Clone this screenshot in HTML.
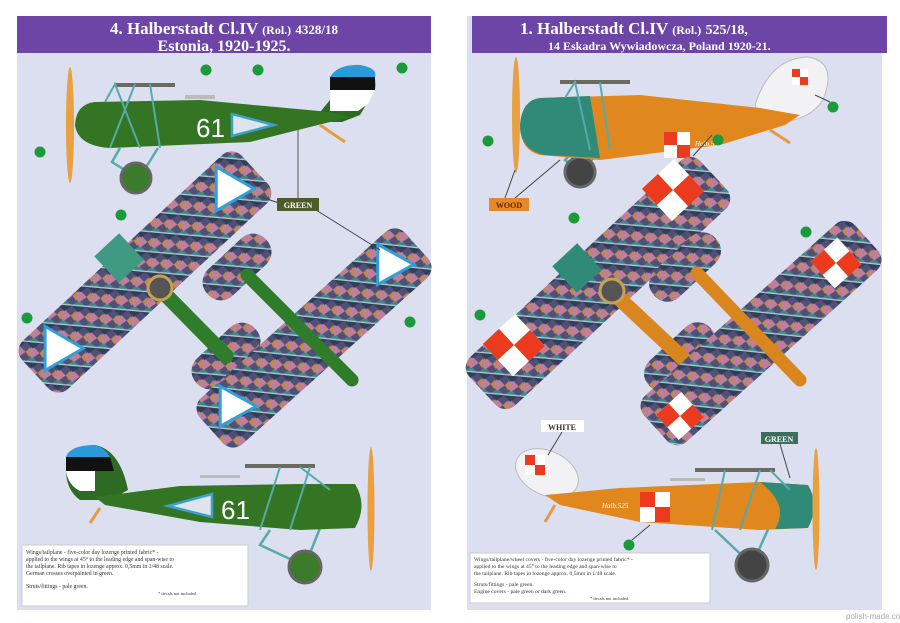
<!DOCTYPE html>
<html><head><meta charset="utf-8"><style>
html,body{margin:0;padding:0;background:#fff;width:900px;height:623px;overflow:hidden}
svg{display:block}
.t{font-family:"Liberation Serif",serif}
</style></head><body>
<svg width="900" height="623" viewBox="0 0 900 623" xmlns="http://www.w3.org/2000/svg">
<defs>
<pattern id="loz" width="20" height="14" patternUnits="userSpaceOnUse" patternTransform="rotate(-42)">
<rect width="20" height="14" fill="#4f5078"/>
<polygon points="0,0 6,7 0,14" fill="#3a8a88"/>
<polygon points="10,0 16,7 10,14 4,7" fill="#c07f98"/>
<polygon points="20,0 14,7 20,14" fill="#2f3f5a"/>
<polygon points="10,0 15,4 5,4" fill="#c08a4a"/>
<rect x="0" y="0" width="1.3" height="14" fill="#f0e0ee" opacity=".7"/>
</pattern>
<g id="chk"><rect x="-1" y="-1" width="2" height="2" fill="#fff"/><rect x="-1" y="-1" width="1" height="1" fill="#ec3a1e"/><rect x="0" y="0" width="1" height="1" fill="#ec3a1e"/></g>
</defs>
<rect width="900" height="623" fill="#fff"/>
<rect x="17" y="16" width="414" height="594" fill="#dcdff0"/>
<rect x="467" y="16" width="415" height="594" fill="#dcdff0"/>
<rect x="17" y="16" width="414" height="37" fill="#6d45a6"/>
<rect x="472" y="16" width="415" height="37" fill="#6d45a6"/>
<text class="t" x="224" y="34" text-anchor="middle" fill="#fff" font-size="17" font-weight="bold">4. Halberstadt Cl.IV <tspan font-size="12">(Rol.)</tspan> <tspan font-size="13">4328/18</tspan></text>
<text class="t" x="224" y="51" text-anchor="middle" fill="#fff" font-size="16" font-weight="bold">Estonia, 1920-1925.</text>
<text class="t" x="520" y="34" fill="#fff" font-size="17" font-weight="bold">1. Halberstadt Cl.IV <tspan font-size="12">(Rol.)</tspan> <tspan font-size="14">525/18,</tspan></text>
<text class="t" x="548" y="50" fill="#fff" font-size="12" font-weight="bold">14 Eskadra Wywiadowcza, Poland 1920-21.</text>

<!-- LEFT top side view -->
<path d="M120,148 L112,162 L136,177 M158,148 L140,177" stroke="#5aa" stroke-width="2.5" fill="none"/>
<circle cx="136" cy="178" r="15" fill="#3c7a2c" stroke="#666" stroke-width="3"/>
<path d="M330,100 Q330,64 360,65 Q378,68 375,90 L360,115 L342,122 L312,122Z" fill="#2e6b22"/>
<path d="M330,77 Q338,64 360,65 Q378,68 375,77Z" fill="#2a9ad8"/>
<rect x="330" y="77" width="45" height="13" fill="#111"/>
<path d="M330,90 L375,90 L368,104 L358,111 L330,111Z" fill="#fff"/>
<path d="M75,125 Q76,104 95,102 L200,100 L330,112 L348,117 L330,122 L250,142 L110,148 Q78,146 75,125Z" fill="#347524"/>
<path d="M320,125 L345,142" stroke="#e89a40" stroke-width="3"/>
<ellipse cx="70" cy="125" rx="4" ry="58" fill="#e8a040"/>
<rect x="115" y="83" width="60" height="4" fill="#6a6a60"/>
<path d="M105,102 L115,84 L140,148 M150,84 L160,148 M135,84 L110,148" stroke="#5aa" stroke-width="2" fill="none"/>
<rect x="185" y="95" width="30" height="4" fill="#bbb"/>
<text x="196" y="137" font-family="Liberation Sans" font-size="26" fill="#fff">61</text>
<polygon points="232,114 274,125 232,136" fill="#e0e4ea" stroke="#3aa0d0" stroke-width="2.5"/>
<path d="M298,130 L298,200" stroke="#555" stroke-width="1"/>
<circle cx="206" cy="70" r="5.5" fill="#1a9a3a"/><circle cx="258" cy="70" r="5.5" fill="#1a9a3a"/><circle cx="402" cy="68" r="5.5" fill="#1a9a3a"/><circle cx="40" cy="152" r="5.5" fill="#1a9a3a"/>
<!-- LEFT top views -->
<g transform="translate(145,272) rotate(-43)"><rect x="-150" y="-33" width="300" height="66" rx="14" fill="url(#loz)"/>
<polygon points="-130,-22 -92,0 -130,22" fill="#fff" stroke="#30a0d8" stroke-width="3" transform="rotate(43 -112 0)"/><polygon points="104,-22 142,0 104,22" fill="#fff" stroke="#30a0d8" stroke-width="3" transform="rotate(43 122 0)"/></g>
<g transform="translate(237,267) rotate(-43)"><rect x="-40" y="-18" width="80" height="36" rx="17" fill="url(#loz)"/></g>
<g transform="translate(226,356) rotate(-43)"><rect x="-40" y="-18" width="80" height="36" rx="17" fill="url(#loz)"/></g>
<path d="M159,288 L226,356" stroke="#2f7d2a" stroke-width="15" stroke-linecap="round"/>
<g transform="translate(314,338) rotate(-42)"><rect x="-138" y="-31" width="276" height="62" rx="14" fill="url(#loz)"/>
<polygon points="-120,-20 -84,0 -120,20" fill="#fff" stroke="#30a0d8" stroke-width="3" transform="rotate(42 -102 0)"/><polygon points="92,-20 128,0 92,20" fill="#fff" stroke="#30a0d8" stroke-width="3" transform="rotate(42 110 0)"/></g>
<path d="M247,275 L352,380" stroke="#2f7d2a" stroke-width="13" stroke-linecap="round"/>
<rect x="102" y="240" width="34" height="36" fill="#3f9a82" transform="rotate(-43 119 258)"/>
<circle cx="160" cy="288" r="12" fill="#555" stroke="#c8a050" stroke-width="3"/>
<path d="M258,196 L282,204 M316,210 L380,250" stroke="#444" stroke-width="1"/>
<rect x="277" y="198" width="42" height="13" fill="#4e5a2a"/><text x="298" y="208" text-anchor="middle" class="t" font-size="8" font-weight="bold" fill="#fff">GREEN</text>
<circle cx="121" cy="215" r="5.5" fill="#1a9a3a"/><circle cx="27" cy="318" r="5.5" fill="#1a9a3a"/><circle cx="410" cy="322" r="5.5" fill="#1a9a3a"/>
<!-- LEFT bottom side view -->
<path d="M270,530 L260,545 L305,566 M320,528 L305,566" stroke="#5aa" stroke-width="2.5" fill="none"/>
<circle cx="305" cy="567" r="16" fill="#3c7a2c" stroke="#666" stroke-width="3"/>
<path d="M66,470 Q66,445 95,445 Q120,450 128,490 L110,500 L80,500 Q66,490 66,470Z" fill="#2e6b22"/>
<path d="M66,457 Q70,445 95,445 Q105,448 110,457Z" fill="#2a9ad8"/>
<path d="M66,457 L110,457 L114,471 L66,471Z" fill="#111"/>
<path d="M66,471 L95,471 L95,491 L80,491 Q68,485 66,471Z" fill="#fff"/>
<path d="M95,497 L180,486 L300,484 L355,484 Q368,505 355,528 L300,530 L200,522 L105,505Z" fill="#347524"/>
<path d="M100,508 L90,523" stroke="#e89a40" stroke-width="3"/>
<rect x="245" y="464" width="70" height="4" fill="#6a6a60"/>
<rect x="200" y="475" width="40" height="3" fill="#bbb"/>
<path d="M280,467 L260,530 M310,467 L290,530 M300,467 L330,490" stroke="#5aa" stroke-width="2" fill="none"/>
<ellipse cx="371" cy="509" rx="3.5" ry="62" fill="#e8a040"/>
<polygon points="212,494 168,506 212,517" fill="#e0e4ea" stroke="#3aa0d0" stroke-width="2.5"/>
<text x="221" y="519" font-family="Liberation Sans" font-size="26" fill="#fff">61</text>
<rect x="22" y="545" width="226" height="61" fill="#fff" stroke="#ccc"/>
<g font-family="Liberation Serif" font-size="5.8" fill="#333">
<text x="26" y="554">Wings/tailplane - five-color day lozenge printed fabric* -</text>
<text x="26" y="561">applied to the wings at 45° to the leading edge and span-wise to</text>
<text x="26" y="568">the tailplane. Rib tapes in lozenge approx. 0,5mm in 1/48 scale.</text>
<text x="26" y="575">German crosses overpainted in green.</text>
<text x="26" y="588">Struts/fittings - pale green.</text>
<text x="158" y="595" font-size="4.5">* decals not included</text></g>

<!-- RIGHT top side view -->
<path d="M575,150 L565,160 L580,172 M600,150 L582,172" stroke="#5aa" stroke-width="2.5" fill="none"/>
<circle cx="580" cy="172" r="15" fill="#444" stroke="#666" stroke-width="3"/>
<path d="M755,105 Q770,58 808,57 Q838,62 823,100 Q810,120 780,122 L760,120Z" fill="#f2f2f4" stroke="#bbb"/>
<g transform="translate(800,77) scale(8)"><use href="#chk"/></g>
<path d="M520,125 Q522,100 540,98 L640,95 L760,108 L800,115 L785,125 L720,145 L600,160 L540,155 Q520,150 520,125Z" fill="#e0881e"/>
<path d="M520,125 Q522,100 540,98 L590,96 L600,158 L545,155 Q520,150 520,125Z" fill="#2f8a78"/>
<path d="M770,130 L790,143" stroke="#e89a40" stroke-width="3"/>
<ellipse cx="516" cy="115" rx="4" ry="58" fill="#e8a040"/>
<rect x="560" y="80" width="70" height="4" fill="#6a6a60"/>
<path d="M565,98 L575,82 L590,150 M600,82 L610,150" stroke="#5aa" stroke-width="2" fill="none"/>
<g transform="translate(677,145) scale(13)"><use href="#chk"/></g>
<text x="695" y="146" font-family="Liberation Serif" font-size="7" fill="#fff" font-style="italic">Halb.525</text>
<path d="M815,95 L830,102 M693,156 L712,135" stroke="#444" stroke-width="1"/>
<circle cx="833" cy="107" r="5.5" fill="#1a9a3a"/><circle cx="718" cy="140" r="5.5" fill="#1a9a3a"/><circle cx="488" cy="141" r="5.5" fill="#1a9a3a"/>
<path d="M515,170 L505,198 M560,160 L515,198" stroke="#444" stroke-width="1"/>
<rect x="489" y="198" width="40" height="13" fill="#e8862a"/><text x="509" y="208" text-anchor="middle" class="t" font-size="8" font-weight="bold" fill="#5a2a00">WOOD</text>
<!-- RIGHT top views -->
<g transform="translate(598,283) rotate(-43)"><rect x="-158" y="-33" width="316" height="66" rx="14" fill="url(#loz)"/></g>
<g transform="translate(685,267) rotate(-43)"><rect x="-42" y="-18" width="84" height="36" rx="17" fill="url(#loz)"/></g>
<g transform="translate(680,357) rotate(-43)"><rect x="-42" y="-18" width="84" height="36" rx="17" fill="url(#loz)"/></g>
<path d="M607,287 L690,365" stroke="#d9861e" stroke-width="15" stroke-linecap="round"/>
<g transform="translate(761,333) rotate(-42)"><rect x="-142" y="-31" width="284" height="62" rx="14" fill="url(#loz)"/></g>
<path d="M697,273 L800,380" stroke="#d9861e" stroke-width="13" stroke-linecap="round"/>
<g transform="translate(673,190) rotate(-43) scale(22)"><use href="#chk"/></g>
<g transform="translate(514,345) rotate(-43) scale(22)"><use href="#chk"/></g>
<g transform="translate(836,263) rotate(-42) scale(18)"><use href="#chk"/></g>
<g transform="translate(680,416) rotate(-42) scale(17)"><use href="#chk"/></g>
<rect x="560" y="250" width="34" height="36" fill="#2f8a78" transform="rotate(-43 577 268)"/>
<circle cx="612" cy="291" r="12" fill="#555" stroke="#c8a050" stroke-width="3"/>
<circle cx="574" cy="218" r="5.5" fill="#1a9a3a"/><circle cx="480" cy="315" r="5.5" fill="#1a9a3a"/><circle cx="806" cy="232" r="5.5" fill="#1a9a3a"/>
<!-- RIGHT bottom side view -->
<path d="M715,530 L752,565 M770,525 L752,565" stroke="#5aa" stroke-width="2.5" fill="none"/>
<circle cx="752" cy="565" r="16" fill="#444" stroke="#666" stroke-width="3"/>
<ellipse cx="547" cy="473" rx="33" ry="22" fill="#f2f2f4" stroke="#bbb" transform="rotate(25 547 473)"/>
<g transform="translate(535,465) scale(10)"><use href="#chk"/></g>
<path d="M545,495 L620,488 L760,482 L808,485 Q820,505 808,528 L760,530 L640,522 L560,505Z" fill="#e0881e"/>
<path d="M760,482 L808,485 Q820,505 808,528 L775,529 Q790,505 760,482Z" fill="#2f8a78"/>
<path d="M555,505 L545,522" stroke="#e89a40" stroke-width="3"/>
<rect x="695" y="468" width="80" height="4" fill="#6a6a60"/>
<rect x="670" y="478" width="35" height="3" fill="#bbb"/>
<path d="M725,470 L712,530 M760,470 L740,530 M770,470 L790,490" stroke="#5aa" stroke-width="2" fill="none"/>
<ellipse cx="816" cy="509" rx="3.5" ry="61" fill="#e8a040"/>
<g transform="translate(655,507) scale(15)"><use href="#chk"/></g>
<text x="602" y="508" font-family="Liberation Serif" font-size="7" fill="#fff" font-style="italic">Halb.525</text>
<path d="M562,432 L548,455 M780,444 L790,478 M650,525 L632,540" stroke="#444" stroke-width="1"/>
<rect x="541" y="420" width="43" height="12" fill="#fff"/><text x="562" y="430" text-anchor="middle" class="t" font-size="8" font-weight="bold" fill="#333">WHITE</text>
<rect x="761" y="432" width="37" height="12" fill="#3d6e5c"/><text x="779" y="442" text-anchor="middle" class="t" font-size="8" font-weight="bold" fill="#fff">GREEN</text>
<circle cx="629" cy="545" r="5.5" fill="#1a9a3a"/>
<rect x="470" y="553" width="240" height="50" fill="#fff" stroke="#ccc"/>
<g font-family="Liberation Serif" font-size="5.6" fill="#333">
<text x="474" y="561">Wings/tailplane/wheel covers - five-color day lozenge printed fabric* -</text>
<text x="474" y="568">applied to the wings at 45° to the leading edge and span-wise to</text>
<text x="474" y="575">the tailplane. Rib tapes in lozenge approx. 0,5mm in 1/48 scale.</text>
<text x="474" y="586">Struts/fittings - pale green.</text>
<text x="474" y="593">Engine covers - pale green or dark green.</text>
<text x="590" y="600" font-size="4.5">* decals not included</text></g>
<text x="846" y="619" font-family="Liberation Sans" font-size="8" fill="#aaa">polish-made.com</text>
</svg>
</body></html>
